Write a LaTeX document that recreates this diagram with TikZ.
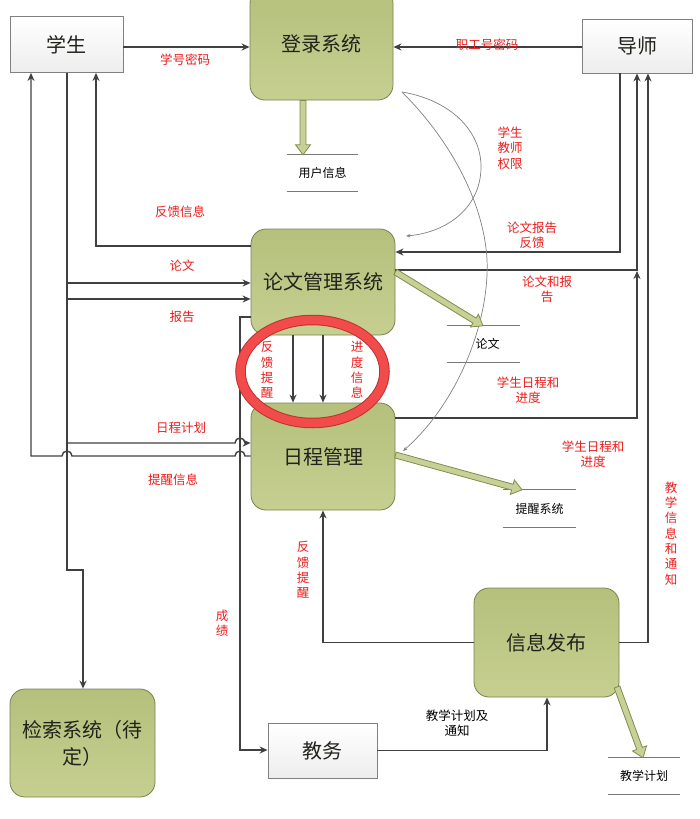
\documentclass[tikz,border=0pt]{standalone}
\usepackage{fontspec}
\setmainfont{Noto Sans CJK SC}
\usetikzlibrary{arrows.meta,calc}
\definecolor{gtop}{RGB}{181,192,124}
\definecolor{gbot}{RGB}{198,207,144}
\definecolor{gboxline}{RGB}{120,130,80}
\definecolor{wline}{RGB}{128,128,128}
\definecolor{boxtext}{RGB}{34,34,28}
\definecolor{lc}{RGB}{64,64,64}
\definecolor{lred}{RGB}{235,28,28}
\definecolor{fatfill}{RGB}{200,208,150}
\definecolor{fatline}{RGB}{128,140,80}
\definecolor{ringred}{RGB}{242,75,75}
\definecolor{ringdark}{RGB}{190,50,45}
\definecolor{storeline}{RGB}{120,120,120}
\newcommand\fatarrow[2]{%
  \coordinate (fa1) at #1; \coordinate (fa2) at #2;
  \coordinate (fah) at ($(fa2)!10pt!(fa1)$);
  \filldraw[fatsty] ($(fa1)!3pt!90:(fa2)$) -- ($(fah)!3pt!-90:(fa1)$) -- ($(fah)!7.5pt!-90:(fa1)$) -- (fa2) -- ($(fah)!7.5pt!90:(fa1)$) -- ($(fah)!3pt!90:(fa1)$) -- ($(fa1)!3pt!-90:(fa2)$) -- cycle;}
\begin{document}
\begin{tikzpicture}[x=1pt,y=-1pt,
  gbox/.style={draw=gboxline, line width=0.8pt, rounded corners=15pt, top color=gtop, bottom color=gbot, font=\fontsize{20}{27}\selectfont, text=boxtext, align=center, inner sep=0pt},
  wbox/.style={draw=wline, line width=0.8pt, top color=white, bottom color=gray!14, font=\fontsize{20}{24}\selectfont, text=boxtext, inner sep=0pt},
  flow/.style={draw=lc, line width=1.4pt, -{Stealth[length=8pt,width=7pt]}},
  thinc/.style={draw=gray, line width=0.7pt, -{Stealth[length=4.5pt,width=3.5pt]}},
  lbl/.style={text=lred, font=\fontsize{12.5}{15.3}\selectfont, align=center, inner sep=0pt},
  stxt/.style={font=\fontsize{12}{15}\selectfont, inner sep=0pt},
  sline/.style={draw=storeline, line width=0.9pt},
  fatsty/.style={fill=fatfill, draw=fatline, line width=0.8pt, line join=miter},
  ring/.style={draw=ringdark, line width=1pt, double=ringred, double distance=8.5pt}
]
\useasboundingbox (0,0) rectangle (699,819);
\clip (0,0) rectangle (699,819);

% boxes
\node[wbox, minimum width=113pt, minimum height=56pt] (stu) at (66.5,44.5) {学生};
\node[wbox, minimum width=110pt, minimum height=54pt] (tut) at (637,46) {导师};
\node[gbox, minimum width=143pt, minimum height=112pt] (login) at (321.5,44) {登录系统};
\node[gbox, minimum width=144pt, minimum height=106pt] (thesis) at (323,282) {论文管理系统};
\node[gbox, minimum width=144pt, minimum height=107pt] (sched) at (323,456.5) {日程管理};
\node[gbox, minimum width=145pt, minimum height=109pt] (pub) at (546.5,642.5) {信息发布};
\node[gbox, minimum width=145pt, minimum height=108pt] (search) at (82.5,743) {检索系统（待\\定）};
\node[wbox, minimum width=109pt, minimum height=55pt] (jw) at (322.5,750.5) {教务};

% data stores
\node[stxt, minimum width=71pt, minimum height=36pt] (ustore) at (322.5,173) {用户信息};
\node[stxt, minimum width=73pt, minimum height=36pt] (tstore) at (483.5,344) {\hspace*{8pt}论文};
\node[stxt, minimum width=73pt, minimum height=37pt] (rstore) at (539.5,508.5) {提醒系统};
\node[stxt, minimum width=72pt, minimum height=36pt] (pstore) at (644,776) {教学计划};
\foreach \s in {ustore,tstore,rstore,pstore}{
  \draw[sline] (\s.north west) -- (\s.north east) (\s.south west) -- (\s.south east);
}

% login flows
\draw[flow] (stu.east |- 0,47) -- (login.west |- 0,47);
\draw[flow] (tut.west |- 0,47) -- (login.east |- 0,47);

% student trunk
\draw[flow] (stu.south -| 67,0) -- (67,570) -- (83,570) -- (search.north -| 83,0);
\coordinate (j283) at (67,283);
\coordinate (j299) at (67,299);
\coordinate (j443) at (67,443);
\draw[flow] (j283) -- (thesis.west |- 0,283);
\draw[flow] (j299) -- (thesis.west |- 0,299);
\draw[flow] (thesis.west |- 0,246) -| (stu.south -| 96,0);

% thesis -> jiaowu (grades)
\draw[flow] (thesis.west |- 0,317) -- (240,317) -- (240,750) -- (jw.west |- 0,750);

% schedule plan with hop
\draw[flow] (j443) -- (235,443) arc[start angle=180,end angle=0,radius=5pt] -- (sched.west |- 0,443);
% reminders back to student with hops
\draw[flow] (sched.west |- 0,456) -- (245,456) arc[start angle=0,end angle=180,radius=5pt]
  -- (72,456) arc[start angle=0,end angle=180,radius=5pt] -- (31,456) -- (stu.south -| 31,0);

% thesis -> schedule
\draw[flow] (thesis.south -| 293,0) -- (sched.north -| 293,0);
\draw[flow] (thesis.south -| 323,0) -- (sched.north -| 323,0);

% tutor links
\draw[flow] (tut.south -| 620,0) |- (thesis.east |- 0,252);
\draw[flow] (thesis.east |- 0,270) -| (tut.south -| 637,0);
\coordinate (jt) at (637,271);
\draw[flow] (sched.east |- 0,418) -| (jt);
\draw[flow] (pub.east) -| (tut.south -| 648,0);

% publish links
\draw[flow] (pub.west) -| (sched.south -| 323,0);
\draw[flow] (jw.east) -| (pub.south -| 547,0);

% thin curves from login
\coordinate (lc) at (402,92);
\draw[thinc] (lc) .. controls (450,100) and (480,130) .. (481,165) .. controls (482,205) and (450,232) .. (406,236);
\draw[thinc] (lc) .. controls (460,150) and (490,220) .. (487,275) .. controls (484,340) and (450,410) .. (403,451);

% fat arrows
\fatarrow{(login.south -| 303,0)}{(ustore.north -| 303,0)}
\fatarrow{(thesis.east |- 0,272)}{(tstore.north -| 483,0)}
\fatarrow{(sched.east |- 0,455)}{(rstore.north -| 522,0)}
\fatarrow{(617,687)}{(pstore.north -| 643,0)}

% ring
\draw[ring] (312.5,371.5) ellipse[x radius=72pt, y radius=51.5pt];

% labels
\node[lbl] at (185,60) {学号密码};
\node[lbl] at (487,45) {职工号密码};
\node[lbl] at (510,148) {学生\\教师\\权限};
\node[lbl] at (180,212) {反馈信息};
\node[lbl] at (182,266) {论文};
\node[lbl] at (182,317) {报告};
\node[lbl] at (532,235.5) {论文报告\\反馈};
\node[lbl] at (547,289.5) {论文和报\\告};
\node[lbl] at (267,370) {反\\馈\\提\\醒};
\node[lbl] at (357,370) {进\\度\\信\\息};
\node[lbl] at (528,390.5) {学生日程和\\进度};
\node[lbl] at (181,428) {日程计划};
\node[lbl] at (173,480) {提醒信息};
\node[lbl] at (593,454.5) {学生日程和\\进度};
\node[lbl] at (671,533.5) {教\\学\\信\\息\\和\\通\\知};
\node[lbl] at (303,570) {反\\馈\\提\\醒};
\node[lbl] at (222,623.5) {成\\绩};
\node[lbl, text=black] at (457,723.5) {教学计划及\\通知};
\end{tikzpicture}
\end{document}
